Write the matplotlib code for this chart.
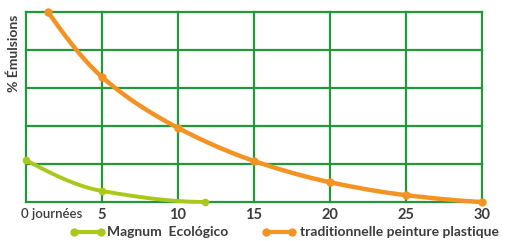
import numpy as np
import matplotlib
matplotlib.use("Agg")
import matplotlib.pyplot as plt
from matplotlib.lines import Line2D
import matplotlib.transforms as mtransforms

# Data (y in grid units: 0..5)
days_trad = [1.45, 5, 10, 15, 20, 25, 30]
emul_trad = [5.0, 3.29, 1.95, 1.08, 0.52, 0.18, 0.0]
days_magnum = [0, 5, 11.8]
emul_magnum = [1.1, 0.29, 0.0]
xticks = [0, 5, 10, 15, 20, 25, 30]
xtick_labels = ["0 journées", "5", "10", "15", "20", "25", "30"]
series_names = ["Magnum  Ecológico", "traditionnelle peinture plastique"]

ORANGE = "#f39324"
LGREEN = "#a9c81b"
GRID = "#23973a"
TEXT = "#3c3c3c"
FONT = "Lato"


def pchip(x, y, n=200):
    x = np.asarray(x, float); y = np.asarray(y, float)
    h = np.diff(x); d = np.diff(y) / h
    m = np.zeros_like(y)
    for k in range(1, len(x) - 1):
        if d[k - 1] * d[k] > 0:
            w1 = 2 * h[k] + h[k - 1]; w2 = h[k] + 2 * h[k - 1]
            m[k] = (w1 + w2) / (w1 / d[k - 1] + w2 / d[k])
    m[0] = d[0] if len(d) == 1 else ((2 * h[0] + h[1]) * d[0] - h[0] * d[1]) / (h[0] + h[1])
    if len(d) > 1 and np.sign(m[0]) != np.sign(d[0]):
        m[0] = 0
    m[-1] = d[-1] if len(d) == 1 else ((2 * h[-1] + h[-2]) * d[-1] - h[-1] * d[-2]) / (h[-1] + h[-2])
    if len(d) > 1 and np.sign(m[-1]) != np.sign(d[-1]):
        m[-1] = 0
    xs = np.linspace(x[0], x[-1], n)
    idx = np.clip(np.searchsorted(x, xs) - 1, 0, len(x) - 2)
    t = (xs - x[idx]) / h[idx]
    h00 = 2 * t**3 - 3 * t**2 + 1; h10 = t**3 - 2 * t**2 + t
    h01 = -2 * t**3 + 3 * t**2; h11 = t**3 - t**2
    ys = h00 * y[idx] + h10 * h[idx] * m[idx] + h01 * y[idx + 1] + h11 * h[idx] * m[idx + 1]
    return xs, ys


fig = plt.figure(figsize=(5.08, 2.41), dpi=100)
ax = fig.add_axes([26 / 508, 39 / 241, 456 / 508, 190 / 241])
ax.set_xlim(0, 30)
ax.set_ylim(0, 5)

for xv in xticks:
    ax.axvline(xv, color=GRID, lw=1.6, zorder=1, clip_on=False)
for yv in range(0, 6):
    ax.axhline(yv, color=GRID, lw=1.6, zorder=1, clip_on=False)
for s in ax.spines.values():
    s.set_visible(False)

xs, ys = pchip(days_trad, emul_trad)
ax.plot(xs, ys, color=ORANGE, lw=3.2, solid_capstyle="round", zorder=3, clip_on=False)
ax.plot(days_trad, emul_trad, "o", color=ORANGE, ms=5, zorder=4, clip_on=False)

xs, ys = pchip(days_magnum, emul_magnum)
ax.plot(xs, ys, color=LGREEN, lw=2.8, solid_capstyle="round", zorder=3, clip_on=False)
ax.plot(days_magnum, emul_magnum, "o", color=LGREEN, ms=4.5, zorder=4, clip_on=False)

ax.set_xticks(xticks)
ax.set_xticklabels(xtick_labels, fontsize=10.5, color=TEXT, fontfamily=FONT, fontweight="bold")
ax.tick_params(axis="x", length=0, pad=4)
ax.set_yticks([])
lbls = ax.get_xticklabels()
lbls[0].set_horizontalalignment("left")
lbls[0].set_transform(lbls[0].get_transform() + mtransforms.ScaledTranslation(-5 / 100, 0, fig.dpi_scale_trans))
lbls[0].set_fontsize(9.5)
lbls[0].set_fontweight("semibold")

fig.text(14 / 508, 1 - 53 / 241, "% Émulsions", rotation=90, ha="center", va="center",
         fontsize=10, color=TEXT, fontfamily=FONT, fontweight="bold")

# Legend
ly = 1 - 232 / 241
fig.add_artist(Line2D([74 / 508, 101 / 508], [ly, ly], color=LGREEN, lw=3, marker="o", ms=5,
                      solid_capstyle="round"))
fig.text(107 / 508, ly, series_names[0], ha="left", va="center", fontsize=10,
         color=TEXT, fontfamily=FONT, fontweight="bold")
fig.add_artist(Line2D([266 / 508, 292 / 508], [ly, ly], color=ORANGE, lw=3, marker="o", ms=5,
                      solid_capstyle="round"))
fig.text(300 / 508, ly, series_names[1], ha="left", va="center", fontsize=10,
         color=TEXT, fontfamily=FONT, fontweight="bold")

fig.savefig("out.png", dpi=100)
